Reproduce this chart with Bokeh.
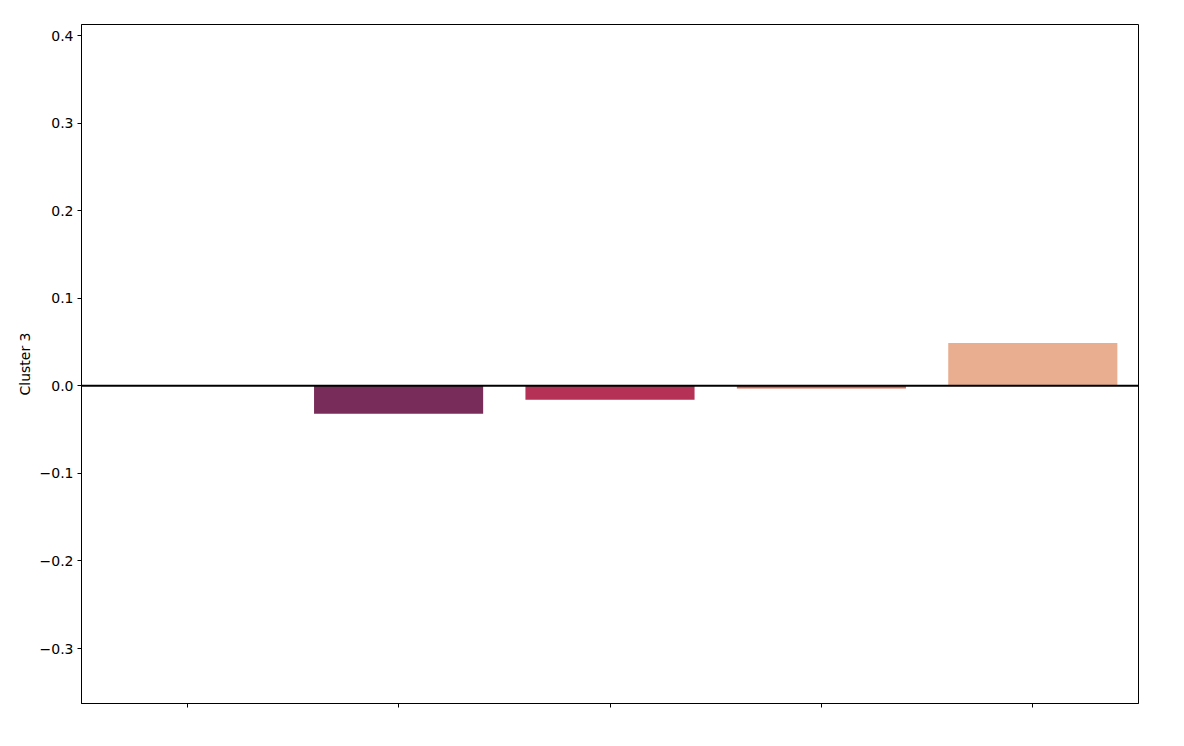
from bokeh.plotting import figure
from bokeh.models import Range1d, FixedTicker, Span, ColumnDataSource
from bokeh.embed import file_html
from bokeh.resources import INLINE

# data
categories = [0, 1, 2, 3, 4]
values = [0.0, -0.032, -0.016, -0.003, 0.049]
colors = ["#3b2040", "#782c59", "#b53156", "#d66a55", "#e9ae90"]
y_ticks = [-0.3, -0.2, -0.1, 0.0, 0.1, 0.2, 0.3, 0.4]
y_tick_labels = ["\u22120.3", "\u22120.2", "\u22120.1", "0.0", "0.1", "0.2", "0.3", "0.4"]

src = ColumnDataSource(dict(x=categories, top=values, color=colors))

p = figure(width=1184, height=746, output_backend="svg", toolbar_location=None,
           x_range=Range1d(-0.5, 4.5), y_range=Range1d(-0.3628, 0.4126),
           min_border_left=81, min_border_right=46, min_border_top=24, min_border_bottom=43)

p.vbar(x="x", top="top", bottom=0, width=0.8, color="color", line_color=None, source=src)
p.add_layout(Span(location=0, dimension="width", line_color="black", line_width=2))

p.xgrid.visible = False
p.ygrid.visible = False
p.outline_line_color = "black"
p.outline_line_width = 1
p.outline_line_alpha = 1

FONT = "DejaVu Sans"
p.yaxis.ticker = FixedTicker(ticks=y_ticks)
p.yaxis.major_label_overrides = {t: l for t, l in zip(y_ticks, y_tick_labels)}
p.xaxis.ticker = FixedTicker(ticks=categories)
p.xaxis.major_label_overrides = {c: "" for c in categories}
for ax in (p.xaxis, p.yaxis):
    ax.minor_tick_line_color = None
    ax.major_tick_in = 0
    ax.major_tick_out = 4
    ax.major_tick_line_color = "black"
    ax.axis_line_color = "black"
    ax.major_label_text_font = FONT
    ax.major_label_text_font_size = "14px"
    ax.major_label_text_color = "black"
    ax.major_label_standoff = 4
p.yaxis.axis_label = "Cluster 3"
p.yaxis.axis_label_text_font = FONT
p.yaxis.axis_label_text_font_size = "14px"
p.yaxis.axis_label_text_font_style = "normal"
p.yaxis.axis_label_text_color = "black"
p.yaxis.axis_label_standoff = 4

open("out.html", "w").write(file_html(p, INLINE))
